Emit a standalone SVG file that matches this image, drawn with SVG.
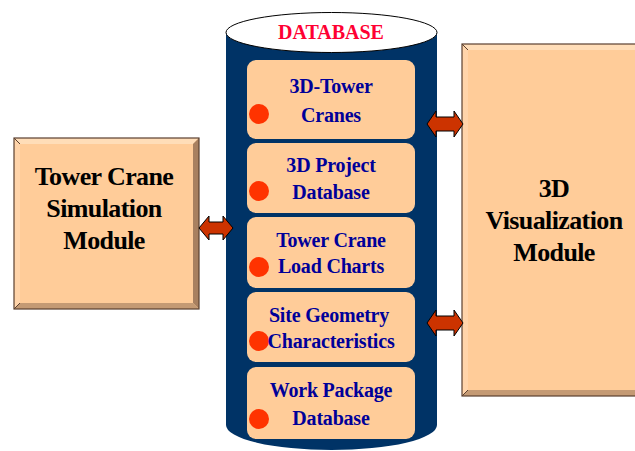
<svg xmlns="http://www.w3.org/2000/svg" width="635" height="451" viewBox="0 0 635 451">
<style>
.face{fill:#FFCC99}
.bt{fill:#FFDDB8}
.bl{fill:#FFD4AA}
.br{fill:#A88060}
.bb{fill:#C49A74}
.frame{fill:none;stroke:#5A4030;stroke-width:1.2}
.big{font-family:"Liberation Serif",serif;font-weight:bold;font-size:26px;fill:#000;text-anchor:middle;letter-spacing:-0.6px}
.item{fill:#FFCC99}
.it{font-family:"Liberation Serif",serif;font-weight:bold;font-size:20px;fill:#000099;text-anchor:middle;letter-spacing:-0.2px}
.dot{fill:#FF3300}
.arr{fill:#CC3300;stroke:#000;stroke-width:1}
</style>
<rect width="635" height="451" fill="#fff"/>
<g id="simulation">
<rect class="face" x="14" y="138" width="185" height="171"/>
<polygon class="bt" points="14,138 199,138 193,144 20,144"/>
<polygon class="bl" points="14,138 20,144 20,303 14,309"/>
<polygon class="br" points="199,138 199,309 193,303 193,144"/>
<polygon class="bb" points="14,309 199,309 193,303 20,303"/>
<rect class="frame" x="14" y="138" width="185" height="171"/>
<line x1="14" y1="138" x2="20" y2="144" stroke="#5A4030"/>
<line x1="14" y1="309" x2="20" y2="303" stroke="#5A4030"/>
<text class="big" x="104" y="185">Tower Crane</text>
<text class="big" x="104" y="217">Simulation</text>
<text class="big" x="104" y="249">Module</text>
</g>
<g id="visualization">
<rect class="face" x="462" y="44" width="180" height="352"/>
<polygon class="bt" points="462,44 642,44 636,50 468,50"/>
<polygon class="bl" points="462,44 468,50 468,390 462,396"/>
<polygon class="bb" points="462,396 642,396 636,390 468,390"/>
<rect class="frame" x="462" y="44" width="180" height="352"/>
<line x1="462" y1="44" x2="468" y2="50" stroke="#5A4030"/>
<line x1="462" y1="396" x2="468" y2="390" stroke="#5A4030"/>
<text class="big" x="554" y="197">3D</text>
<text class="big" x="554" y="229">Visualization</text>
<text class="big" x="554" y="261">Module</text>
</g>
<g id="database">
<path d="M226,32 L226,425 A105.5,25 0 0 0 437,425 L437,32 Z" fill="#003366"/>
<ellipse cx="331.5" cy="32.5" rx="105.5" ry="20" fill="#fff" stroke="#000" stroke-width="1"/>
<text x="331" y="39" font-family="Liberation Serif, serif" font-weight="bold" font-size="20" fill="#FF0033" text-anchor="middle">DATABASE</text>
</g>
<g id="item-cranes">
<rect class="item" x="247" y="60" width="168" height="79" rx="9"/>
<circle class="dot" cx="259" cy="114" r="10"/>
<text class="it" x="331" y="93">3D-Tower</text>
<text class="it" x="331" y="122">Cranes</text>
</g>
<g id="item-project">
<rect class="item" x="247" y="143" width="168" height="70" rx="9"/>
<circle class="dot" cx="259" cy="191" r="10"/>
<text class="it" x="331" y="172">3D Project</text>
<text class="it" x="331" y="199">Database</text>
</g>
<g id="item-charts">
<rect class="item" x="247" y="217" width="168" height="71" rx="9"/>
<circle class="dot" cx="259" cy="267" r="10"/>
<text class="it" x="331" y="247">Tower Crane</text>
<text class="it" x="331" y="273">Load Charts</text>
</g>
<g id="item-site">
<rect class="item" x="247" y="292" width="168" height="70" rx="9"/>
<circle class="dot" cx="259" cy="341" r="10"/>
<text class="it" x="329" y="322">Site Geometry</text>
<text class="it" x="331" y="348">Characteristics</text>
</g>
<g id="item-work">
<rect class="item" x="247" y="367" width="168" height="72" rx="9"/>
<circle class="dot" cx="259" cy="419" r="10"/>
<text class="it" x="331" y="397">Work Package</text>
<text class="it" x="331" y="425">Database</text>
</g>
<g id="connectors">
<polygon class="arr" points="199,228 209,216 209,222 223,222 223,216 233,228 223,240 223,234 209,234 209,240"/>
<polygon class="arr" points="427,124 436,111 436,117 454,117 454,111 463,124 454,137 454,131 436,131 436,137"/>
<polygon class="arr" points="427,323 436,310 436,316 454,316 454,310 463,323 454,336 454,330 436,330 436,336"/>
</g>
</svg>
